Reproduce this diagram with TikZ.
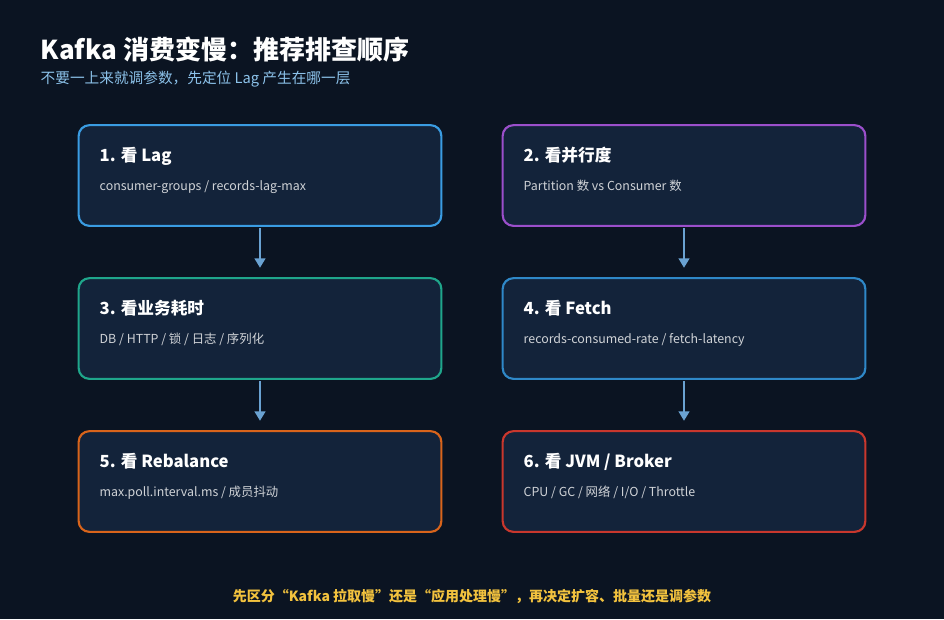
\documentclass[tikz,border=0pt]{standalone}
\usepackage{fontspec}
\setmainfont{Noto Sans CJK SC}
\usetikzlibrary{arrows.meta,positioning}
\definecolor{bg}{HTML}{0B1422}
\definecolor{boxfill}{HTML}{13233A}
\definecolor{c_blue}{HTML}{3A9CE2}
\definecolor{c_purple}{HTML}{9B4FCB}
\definecolor{c_teal}{HTML}{1FA68B}
\definecolor{c_steel}{HTML}{2F88C8}
\definecolor{c_orange}{HTML}{D9641B}
\definecolor{c_red}{HTML}{C9372D}
\definecolor{arrowc}{HTML}{6AA2D2}
\definecolor{subt}{HTML}{8CC2EA}
\definecolor{foot}{HTML}{F2C23E}

\tikzset{
  step/.style={draw=#1, line width=1.6pt, fill=boxfill, rounded corners=8pt,
    minimum width=272pt, minimum height=75.5pt, inner sep=0pt},
  head/.style={anchor=base west, text=white, font=\bfseries\fontsize{12.5}{14}\selectfont},
  info/.style={anchor=base west, text=white!80!boxfill, font=\fontsize{9.3}{11}\selectfont},
  link/.style={draw=arrowc, line width=1.4pt, shorten <=1pt, shorten >=7pt,
    -{Triangle[length=7pt,width=8pt]}}
}

\begin{document}
\begin{tikzpicture}[x=0.75pt,y=-0.75pt]
  % Hintergrund
  \fill[bg] (0,0) rectangle (944,619);
  \useasboundingbox (0,0) rectangle (944,619);
  % Titel
  \node[anchor=base west, text=white, font=\bfseries\fontsize{19.5}{22}\selectfont] (title) at (36,59) {Kafka 消费变慢：推荐排查顺序};
  \node[anchor=base west, text=subt, font=\fontsize{11}{13}\selectfont] (subtitle) at (36,83) {不要一上来就调参数，先定位 Lag 产生在哪一层};
  % Kaesten
  \node[step=c_blue]   (b1) at (260,175.5) {};
  \node[step=c_purple] (b2) at (684,175.5) {};
  \node[step=c_teal]   (b3) at (260,328.5) {};
  \node[step=c_steel]  (b4) at (684,328.5) {};
  \node[step=c_orange] (b5) at (260,481.5) {};
  \node[step=c_red]    (b6) at (684,481.5) {};
  % Texte
  \node[head] at (95,161) {1. 看 Lag};
  \node[info] at (95,190) {consumer-groups / records-lag-max};
  \node[head] at (519,161) {2. 看并行度};
  \node[info] at (519,190) {Partition 数 vs Consumer 数};
  \node[head] at (95,314) {3. 看业务耗时};
  \node[info] at (95,343) {DB / HTTP / 锁 / 日志 / 序列化};
  \node[head] at (519,314) {4. 看 Fetch};
  \node[info] at (519,343) {records-consumed-rate / fetch-latency};
  \node[head] at (95,467) {5. 看 Rebalance};
  \node[info] at (95,496) {max.poll.interval.ms / 成员抖动};
  \node[head] at (519,467) {6. 看 JVM / Broker};
  \node[info] at (519,496) {CPU / GC / 网络 / I/O / Throttle};
  % Pfeile
  \draw[link] (b1) -- (b3);
  \draw[link] (b2) -- (b4);
  \draw[link] (b3) -- (b5);
  \draw[link] (b4) -- (b6);
  % Fusszeile
  \node[text=foot, font=\bfseries\fontsize{10.5}{12}\selectfont] (footer) at (472,596) {先区分“Kafka 拉取慢”还是“应用处理慢”，再决定扩容、批量还是调参数};
\end{tikzpicture}
\end{document}
